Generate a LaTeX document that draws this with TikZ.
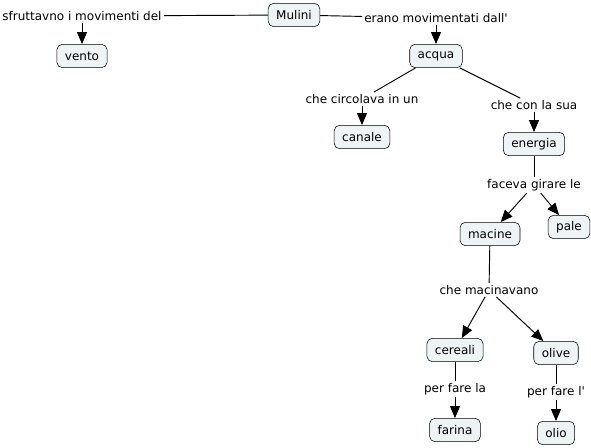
\documentclass[tikz,border=0pt]{standalone}
\usepackage{fontspec}
\setmainfont{DejaVu Sans}
\usepackage{tikz}
\usetikzlibrary{arrows.meta}

\begin{document}
\begin{tikzpicture}[x=0.75pt,y=0.75pt,yscale=-1,xscale=1,
  concept/.style={draw={rgb, 255:red, 0; green, 0; blue, 0 },fill={rgb, 255:red, 238; green, 243; blue, 245 },rounded corners=4pt,inner xsep=6pt,inner ysep=0pt,minimum height=17.5pt,font=\fontsize{9}{11}\selectfont},
  linklabel/.style={inner sep=1.5pt,font=\fontsize{9}{11}\selectfont},
  linkline/.style={line width=0.7pt},
  linkarrow/.style={line width=0.7pt,-{Triangle[width=7.5pt,length=9pt]}}]
  \useasboundingbox (0,0) rectangle (591,447);

  % Concepts
  \node [concept] (mulini) at (294,15) {Mulini};
  \node [concept] (vento) at (82,56) {vento};
  \node [concept] (acqua) at (436,56) {acqua};
  \node [concept] (canale) at (362,137) {canale};
  \node [concept] (energia) at (534,144) {energia};
  \node [concept] (macine) at (490,234) {macine};
  \node [concept] (pale) at (569,227) {pale};
  \node [concept] (cereali) at (455,350) {cereali};
  \node [concept] (olive) at (556,353) {olive};
  \node [concept] (farina) at (455,430) {farina};
  \node [concept] (olio) at (556,433) {olio};

  % Text Node
  \node [linklabel] (sfrutt) at (82,16) {sfruttavno i movimenti del};
  % Text Node
  \node [linklabel] (erano) at (436,18) {erano movimentati dall\textquotesingle};
  % Text Node
  \node [linklabel] (circola) at (362,99) {che circolava in un};
  % Text Node
  \node [linklabel] (consua) at (534,105) {che con la sua};
  % Text Node
  \node [linklabel] (girare) at (534,185) {faceva girare le};
  % Text Node
  \node [linklabel] (macinavano) at (489,290) {che macinavano};
  % Text Node
  \node [linklabel] (perla) at (455,389) {per fare la};
  % Text Node
  \node [linklabel] (perl) at (556,392) {per fare l\textquotesingle};

  % Links
  \draw [linkline] (mulini) -- (sfrutt);
  \draw [linkarrow] (sfrutt) -- (vento);
  \draw [linkline] (mulini) -- (erano);
  \draw [linkarrow] (erano) -- (acqua);
  \draw [linkline] (acqua) -- (circola);
  \draw [linkarrow] (circola) -- (canale);
  \draw [linkline] (acqua) -- (consua);
  \draw [linkarrow] (consua) -- (energia);
  \draw [linkline] (energia) -- (girare);
  \draw [linkarrow] (girare) -- (macine);
  \draw [linkarrow] (girare) -- (pale);
  \draw [linkline] (macine) -- (macinavano);
  \draw [linkarrow] (macinavano) -- (cereali);
  \draw [linkarrow] (macinavano) -- (olive);
  \draw [linkline] (cereali) -- (perla);
  \draw [linkarrow] (perla) -- (farina);
  \draw [linkline] (olive) -- (perl);
  \draw [linkarrow] (perl) -- (olio);

\end{tikzpicture}
\end{document}
